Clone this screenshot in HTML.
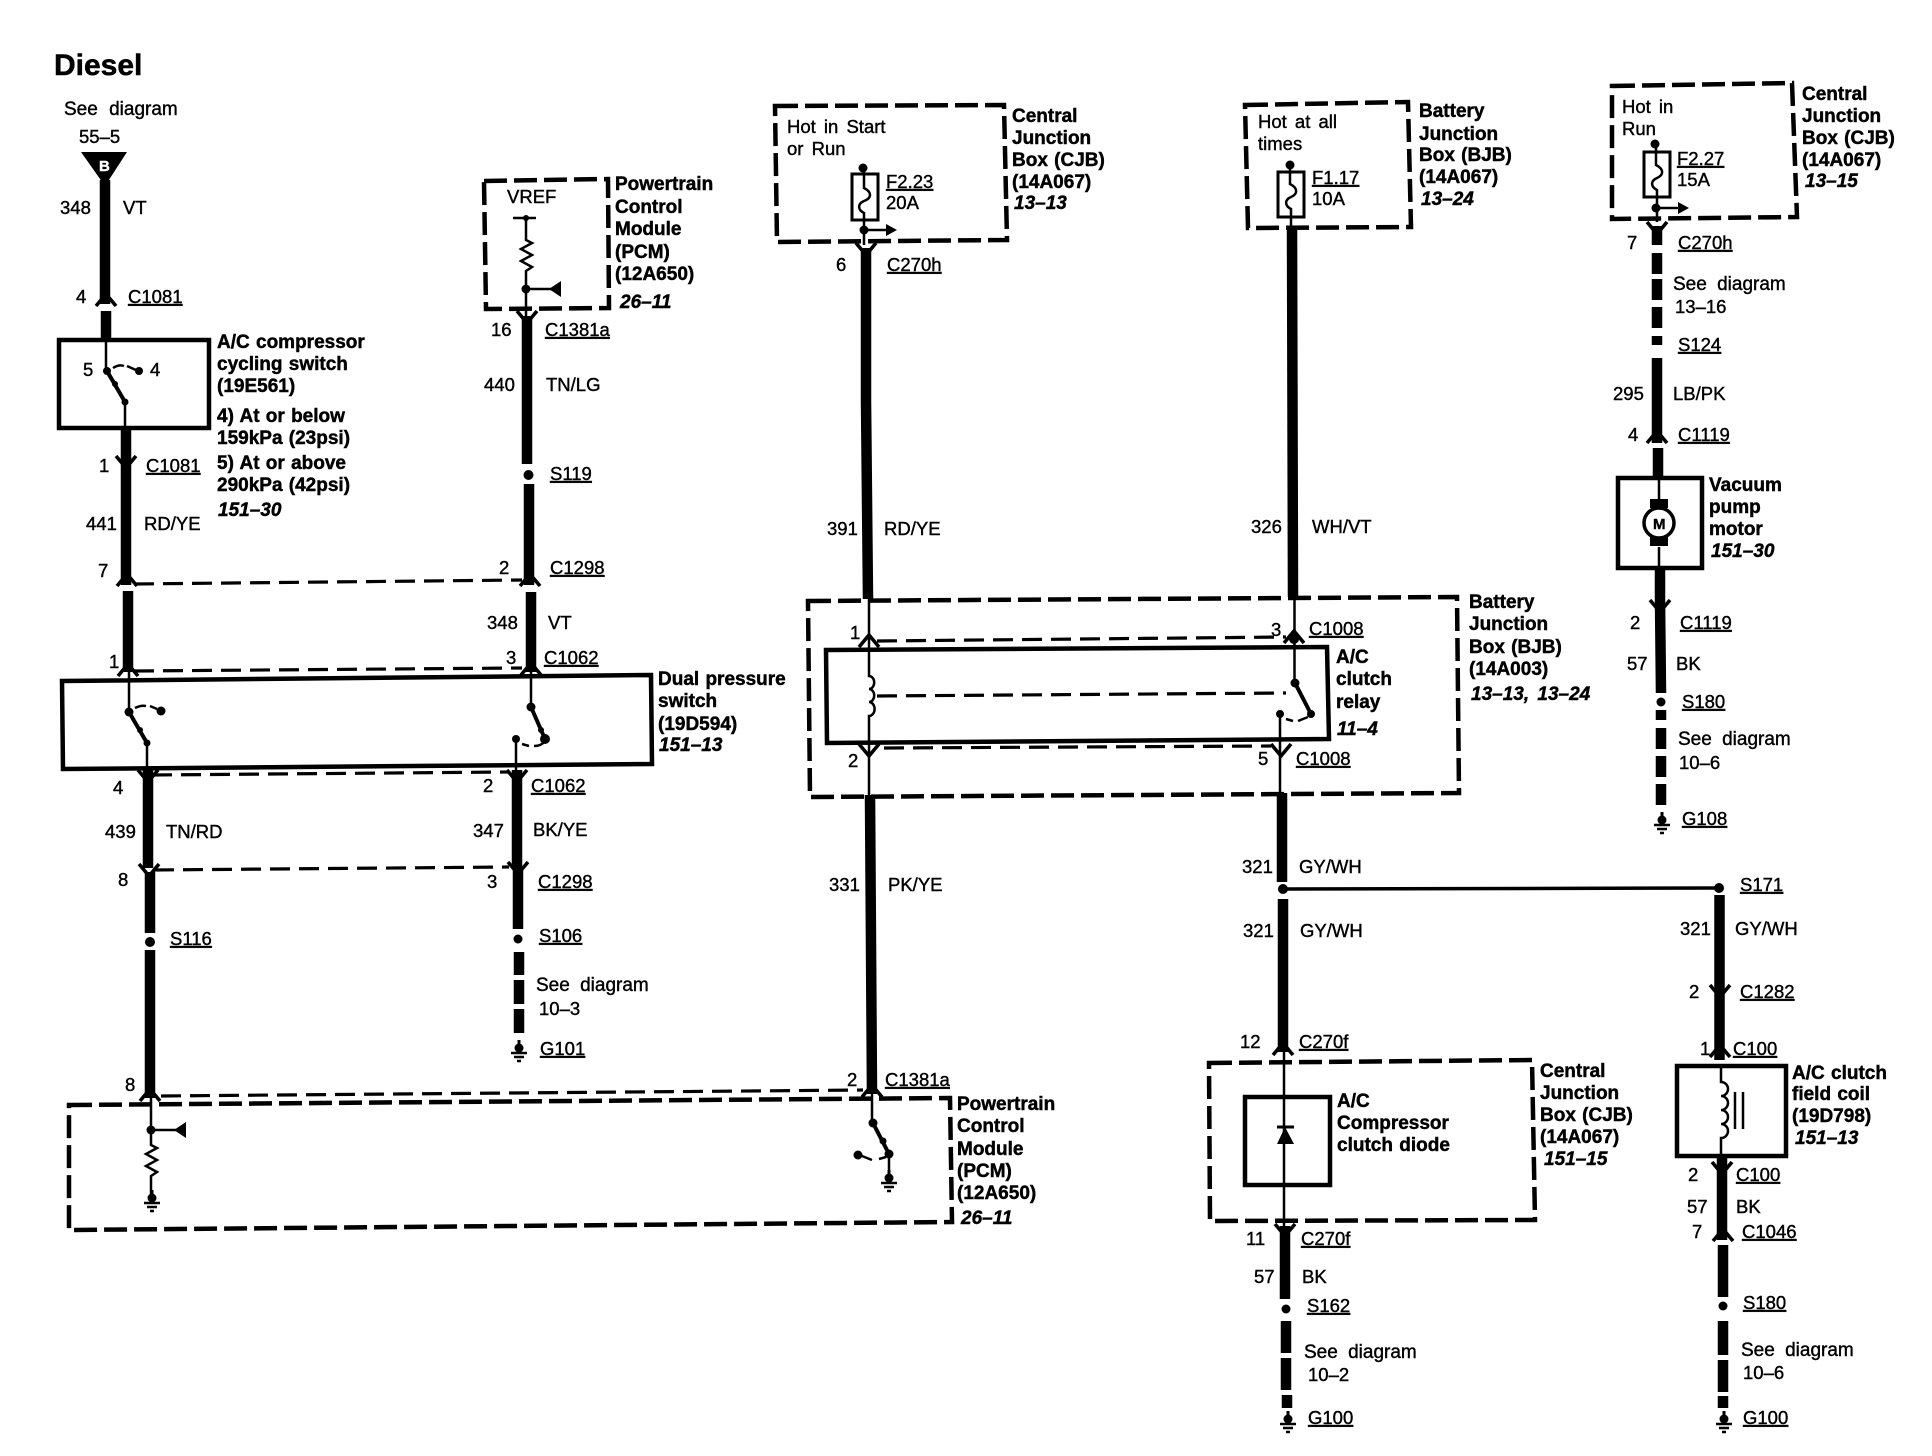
<!DOCTYPE html>
<html>
<head>
<meta charset="utf-8">
<title>Diesel wiring diagram</title>
<style>
html,body{margin:0;padding:0;background:#fff;}
svg{display:block;}
text{font-family:"Liberation Sans",sans-serif;fill:#000;stroke:#000;stroke-width:.4;font-size:18.5px;word-spacing:3px;}
.b{font-weight:bold;font-size:19px;stroke-width:.45;word-spacing:1px;}
.i{font-weight:bold;font-style:italic;font-size:19px;stroke-width:.45;}
.u{text-decoration:underline;}
.w{stroke:#000;stroke-width:10.5;fill:none;}
.t{stroke:#000;stroke-width:2.5;fill:none;}
.bx{stroke:#000;stroke-width:4.5;fill:none;}
.db{stroke:#000;stroke-width:4.5;fill:none;stroke-dasharray:23 7;}
.dl{stroke:#000;stroke-width:3.2;fill:none;stroke-dasharray:20 9;}
.c{stroke:#000;stroke-width:3.6;fill:none;}
.sd{font-size:19px;word-spacing:5px;}
</style>
</head>
<body>
<svg width="1932" height="1456" viewBox="0 0 1932 1456" xmlns="http://www.w3.org/2000/svg">
<defs>
<path id="up" class="c" d="M-10 6 L0 -6 L10 6"/>
<path id="dn" class="c" d="M-10 -6 L0 6 L10 -6"/>
<g id="gnd"><path d="M0 0V10" stroke="#000" stroke-width="3"/><circle cx="0" cy="8" r="4.5" fill="#000"/><path d="M-8 13H8M-5 17H5M-2 21H2" stroke="#000" stroke-width="2.5"/></g>
</defs>
<rect width="1932" height="1456" fill="#fff"/>

<!-- Title -->
<text x="54" y="75" style="font-size:30px;font-weight:bold;stroke-width:.5">Diesel</text>
<text x="64" y="115" class="sd" style="word-spacing:6px">See diagram</text>
<text x="79" y="143">55–5</text>

<!-- Wire column 1 -->
<path d="M81 152H127L105 186Z" fill="#000"/>
<text x="99" y="171" style="fill:#fff;stroke:#fff;font-size:15px;font-weight:bold">B</text>
<path class="w" d="M105 180V304M106 311V338"/>
<use href="#up" x="106" y="300"/>
<rect x="59" y="340" width="150" height="88" class="bx"/>
<path class="t" d="M106 338V371L125 402V429"/>
<path d="M107 371L125 402" stroke="#000" stroke-width="4"/>
<circle cx="107" cy="371" r="4" fill="#000"/><circle cx="115" cy="384" r="3" fill="#000"/><circle cx="125" cy="402" r="3.5" fill="#000"/><circle cx="139" cy="371" r="4" fill="#000"/>
<path class="t" d="M113 368Q119 364 124 366M127 366L136 370"/>
<text x="83" y="376">5</text><text x="150" y="376">4</text>
<path class="w" d="M126 430V585"/>
<use href="#dn" x="126" y="462"/>
<use href="#up" x="127" y="580"/>
<path class="w" d="M128 591V672"/>
<use href="#up" x="128" y="670"/>
<path class="dl" d="M134 584L522 580M134 671L522 668"/>
<text x="60" y="214">348</text><text x="123" y="214">VT</text>
<text x="76" y="303">4</text><text x="128" y="303" class="u">C1081</text>
<text x="99" y="472">1</text><text x="146" y="472" class="u">C1081</text>
<text x="86" y="530">441</text><text x="144" y="530">RD/YE</text>
<text x="98" y="577">7</text><text x="109" y="668">1</text>
<text x="217" y="348" class="b">A/C compressor</text>
<text x="217" y="370" class="b">cycling switch</text>
<text x="217" y="392" class="b">(19E561)</text>
<text x="217" y="422" class="b">4) At or below</text>
<text x="217" y="444" class="b">159kPa (23psi)</text>
<text x="217" y="469" class="b">5) At or above</text>
<text x="217" y="491" class="b">290kPa (42psi)</text>
<text x="218" y="516" class="i">151–30</text>

<!-- PCM VREF -->
<path class="db" d="M484 181L608 179L609 308L486 309Z"/>
<text x="507" y="203">VREF</text>
<path class="t" d="M513 218H536M526 218V240l6 3l-11 6l11 6l-11 6l11 6l-6 4V318"/>
<circle cx="526" cy="218" r="3" fill="#000"/>
<circle cx="526" cy="289" r="4.5" fill="#000"/>
<path class="t" d="M526 289H552"/><path d="M561 281V297L549 289Z" fill="#000"/>
<use href="#dn" x="527" y="317"/>
<path class="w" d="M527 316V464M529 484V585M531 592V672"/>
<circle cx="528.5" cy="475" r="5" fill="#000"/>
<use href="#up" x="530" y="580"/>
<use href="#up" x="531" y="669"/>
<text x="491" y="336">16</text><text x="545" y="336" class="u">C1381a</text>
<text x="484" y="391">440</text><text x="546" y="391">TN/LG</text>
<text x="550" y="480" class="u">S119</text>
<text x="499" y="574">2</text><text x="550" y="574" class="u">C1298</text>
<text x="487" y="629">348</text><text x="548" y="629">VT</text>
<text x="506" y="664">3</text><text x="544" y="664" class="u">C1062</text>
<text x="615" y="190" class="b">Powertrain</text>
<text x="615" y="213" class="b">Control</text>
<text x="615" y="235" class="b">Module</text>
<text x="615" y="258" class="b">(PCM)</text>
<text x="615" y="280" class="b">(12A650)</text>
<text x="620" y="308" class="i">26–11</text>

<!-- Dual pressure switch -->
<path class="bx" d="M62 681L651 675L652 764L63 769Z"/>
<path class="t" d="M129 672V712"/><path d="M129 712L147 743" stroke="#000" stroke-width="4"/><path class="t" d="M147 743V770"/>
<circle cx="129" cy="712" r="4.5" fill="#000"/><circle cx="140" cy="730" r="3" fill="#000"/><circle cx="147" cy="743" r="3.5" fill="#000"/><circle cx="161" cy="711" r="4.5" fill="#000"/>
<path class="t" d="M135 708Q141 705 146 706M150 706L157 709"/>
<path class="t" d="M531 670V707"/><path d="M531 707L545 739" stroke="#000" stroke-width="4"/>
<circle cx="531" cy="707" r="4.5" fill="#000"/><circle cx="541" cy="730" r="3" fill="#000"/><circle cx="545" cy="739" r="5" fill="#000"/><circle cx="516" cy="739" r="4" fill="#000"/>
<path class="t" d="M516 739V770M522 744L529 746M534 746Q541 746 544 742"/>
<text x="658" y="685" class="b">Dual pressure</text>
<text x="658" y="707" class="b">switch</text>
<text x="658" y="730" class="b">(19D594)</text>
<text x="659" y="751" class="i">151–13</text>

<!-- below dual -->
<path class="w" d="M148 770V868M150 872V933M150 950V1098"/>
<use href="#dn" x="148" y="776"/><use href="#dn" x="149" y="870"/>
<circle cx="150" cy="942" r="5" fill="#000"/>
<use href="#up" x="150" y="1095"/>
<path class="dl" d="M152 775L509 772M154 870L509 867M161 1096L863 1090"/>
<path class="w" d="M517 770V866M518 866V929"/>
<use href="#dn" x="517" y="776"/><use href="#dn" x="518" y="868"/>
<circle cx="518" cy="939" r="4.5" fill="#000"/>
<path class="w" d="M519 952V975M519 980V1004M519 1009V1033"/>
<use href="#gnd" x="519" y="1040"/>
<text x="113" y="794">4</text>
<text x="105" y="838">439</text><text x="166" y="838">TN/RD</text>
<text x="118" y="886">8</text><text x="170" y="945" class="u">S116</text>
<text x="125" y="1091">8</text>
<text x="483" y="792">2</text><text x="531" y="792" class="u">C1062</text>
<text x="473" y="837">347</text><text x="533" y="836">BK/YE</text>
<text x="487" y="888">3</text><text x="538" y="888" class="u">C1298</text>
<text x="539" y="942" class="u">S106</text>
<text x="536" y="991" class="sd">See diagram</text>
<text x="539" y="1015">10–3</text>
<text x="540" y="1055" class="u">G101</text>

<!-- Bottom PCM -->
<path class="db" d="M69 1105L950 1098L952 1222L69 1230Z"/>
<path class="t" d="M151 1097V1145l6 3l-11 6l11 6l-11 6l11 6l-6 4V1196"/>
<circle cx="151" cy="1130" r="4.5" fill="#000"/>
<path class="t" d="M151 1130H178"/><path d="M186 1122V1138L174 1130Z" fill="#000"/>
<use href="#gnd" x="152" y="1190"/>
<path class="t" d="M872 1090V1123"/><path d="M873 1123L889 1154" stroke="#000" stroke-width="4"/>
<circle cx="873" cy="1123" r="4.5" fill="#000"/><circle cx="883" cy="1141" r="3.5" fill="#000"/><circle cx="889" cy="1154" r="4.500" fill="#000"/><circle cx="858" cy="1155" r="4.5" fill="#000"/>
<path class="t" d="M862 1156L872 1160M879 1159L886 1157M889 1154V1175"/>
<use href="#gnd" x="889" y="1170"/>
<use href="#up" x="872" y="1091"/>
<text x="847" y="1086">2</text><text x="885" y="1086" class="u">C1381a</text>
<text x="957" y="1110" class="b">Powertrain</text>
<text x="957" y="1132" class="b">Control</text>
<text x="957" y="1155" class="b">Module</text>
<text x="957" y="1177" class="b">(PCM)</text>
<text x="957" y="1199" class="b">(12A650)</text>
<text x="961" y="1224" class="i">26–11</text>

<!-- CJB F2.23 -->
<path class="db" d="M775 106L1004 105L1007 240L777 242Z"/>
<text x="787" y="133">Hot in Start</text><text x="787" y="155">or Run</text>
<circle cx="863" cy="168" r="4.5" fill="#000"/>
<rect x="852" y="174" width="26" height="46" fill="none" stroke="#000" stroke-width="3"/>
<path class="t" d="M864 170V188C872 192 872 198 864 201C857 204 858 210 864 213V245"/>
<circle cx="864" cy="230" r="4.5" fill="#000"/>
<path class="t" d="M864 230H888"/><path d="M886 224L897 230L886 236Z" fill="#000"/>
<text x="886" y="188" class="u">F2.23</text><text x="886" y="209">20A</text>
<use href="#dn" x="866" y="249"/>
<path class="w" d="M866 248V400L868 599"/>
<text x="836" y="271">6</text><text x="887" y="271" class="u">C270h</text>
<text x="827" y="535">391</text><text x="884" y="535">RD/YE</text>
<text x="1012" y="122" class="b">Central</text>
<text x="1012" y="144" class="b">Junction</text>
<text x="1012" y="166" class="b">Box (CJB)</text>
<text x="1012" y="188" class="b">(14A067)</text>
<text x="1014" y="209" class="i">13–13</text>

<!-- BJB F1.17 -->
<path class="db" d="M1245 105L1408 102L1411 227L1248 228Z"/>
<text x="1258" y="128">Hot at all</text><text x="1258" y="150">times</text>
<circle cx="1290" cy="165" r="4.5" fill="#000"/>
<rect x="1278" y="172" width="26" height="45" fill="none" stroke="#000" stroke-width="3"/>
<path class="t" d="M1290 167V184C1298 188 1298 194 1291 197C1284 200 1285 206 1291 209V228"/>
<text x="1312" y="184" class="u">F1.17</text><text x="1312" y="205">10A</text>
<path class="w" d="M1292 226L1293 597"/>
<text x="1251" y="533">326</text><text x="1312" y="533">WH/VT</text>
<text x="1419" y="117" class="b">Battery</text>
<text x="1419" y="140" class="b">Junction</text>
<text x="1419" y="161" class="b">Box (BJB)</text>
<text x="1419" y="183" class="b">(14A067)</text>
<text x="1421" y="205" class="i">13–24</text>

<!-- Battery junction box + relay -->
<path class="db" d="M808 601L1457 597L1459 793L810 797Z"/>
<path class="bx" d="M826 650L1327 647L1329 739L827 743Z"/>
<path class="t" d="M869 598V676a4 5 0 0 1 0 13a4 5 0 0 1 0 13a4 5 0 0 1 0 14V795"/>
<use href="#up" x="869" y="641"/><use href="#dn" x="869" y="750"/>
<path class="dl" d="M877 641L1286 637M884 748L1271 746M877 696L1286 693"/>
<path class="t" d="M1294.5 596V683"/>
<circle cx="1294" cy="639" r="5" fill="#000"/>
<use href="#up" x="1294" y="637"/>
<circle cx="1295" cy="683" r="4.5" fill="#000"/>
<path d="M1295 683L1311 714" stroke="#000" stroke-width="4"/>
<circle cx="1311" cy="714" r="4" fill="#000"/><circle cx="1280" cy="714" r="4" fill="#000"/>
<path class="t" d="M1280 714V795M1286 719L1293 721M1298 721L1308 717"/>
<use href="#dn" x="1281" y="750"/>
<text x="850" y="639">1</text><text x="1271" y="636">3</text><text x="1309" y="635" class="u">C1008</text>
<text x="848" y="767">2</text><text x="1258" y="765">5</text><text x="1296" y="765" class="u">C1008</text>
<text x="1336" y="663" class="b">A/C</text>
<text x="1336" y="685" class="b">clutch</text>
<text x="1336" y="708" class="b">relay</text>
<text x="1337" y="735" class="i">11–4</text>
<text x="1469" y="608" class="b">Battery</text>
<text x="1469" y="630" class="b">Junction</text>
<text x="1469" y="653" class="b">Box (BJB)</text>
<text x="1469" y="675" class="b">(14A003)</text>
<text x="1471" y="700" class="i">13–13, 13–24</text>

<!-- Wire 331 -->
<path class="w" d="M870 795L872 1094"/>
<text x="829" y="891">331</text><text x="888" y="891">PK/YE</text>

<!-- Wire 321 -->
<path class="w" d="M1282 793V882M1283 899V1052"/>
<circle cx="1283" cy="889" r="5" fill="#000"/>
<path d="M1283 889L1719 888" stroke="#000" stroke-width="3.5"/>
<circle cx="1719" cy="888" r="5" fill="#000"/>
<use href="#up" x="1283" y="1049"/>
<text x="1242" y="873">321</text><text x="1299" y="873">GY/WH</text>
<text x="1243" y="937">321</text><text x="1300" y="937">GY/WH</text>
<text x="1240" y="1048">12</text><text x="1299" y="1048" class="u">C270f</text>

<!-- CJB diode -->
<path class="db" d="M1209 1063L1532 1060L1535 1220L1210 1221Z"/>
<rect x="1245" y="1097" width="85" height="88" class="bx"/>
<path class="t" d="M1284 1050V1232"/>
<path d="M1277 1127H1294" stroke="#000" stroke-width="3"/>
<path d="M1285 1127L1277 1144H1294Z" fill="#000"/>
<use href="#dn" x="1285" y="1230"/>
<path class="w" d="M1285 1226V1299M1286 1321V1353M1286 1358V1390M1287 1395V1408"/>
<circle cx="1286" cy="1309" r="4.5" fill="#000"/>
<use href="#gnd" x="1288" y="1411"/>
<text x="1246" y="1245">11</text><text x="1301" y="1245" class="u">C270f</text>
<text x="1254" y="1283">57</text><text x="1302" y="1283">BK</text>
<text x="1307" y="1312" class="u">S162</text>
<text x="1304" y="1358" class="sd">See diagram</text>
<text x="1308" y="1381">10–2</text>
<text x="1308" y="1424" class="u">G100</text>
<text x="1337" y="1107" class="b">A/C</text>
<text x="1337" y="1129" class="b">Compressor</text>
<text x="1337" y="1151" class="b">clutch diode</text>
<text x="1540" y="1077" class="b">Central</text>
<text x="1540" y="1099" class="b">Junction</text>
<text x="1540" y="1121" class="b">Box (CJB)</text>
<text x="1540" y="1143" class="b">(14A067)</text>
<text x="1544" y="1165" class="i">151–15</text>

<!-- Right wire 321 / clutch field coil -->
<path class="w" d="M1719.5 895V1060"/>
<use href="#dn" x="1720" y="991"/><use href="#up" x="1720" y="1051"/>
<rect x="1677" y="1066" width="109" height="90" class="bx"/>
<path class="t" d="M1721 1064V1082a5 5 0 0 1 0 14a5 5 0 0 1 0 14a5 5 0 0 1 0 14a5 5 0 0 1 0 14V1158"/>
<path d="M1735 1092V1129M1743 1092V1129" stroke="#000" stroke-width="2.5"/>
<path class="w" d="M1722 1156V1240M1723 1245V1297M1723 1321V1355M1723 1360V1392M1723 1396V1408"/>
<use href="#dn" x="1722" y="1168"/><use href="#up" x="1723" y="1235"/>
<circle cx="1723" cy="1306" r="4.5" fill="#000"/>
<use href="#gnd" x="1724" y="1411"/>
<text x="1740" y="891" class="u">S171</text>
<text x="1680" y="935">321</text><text x="1735" y="935">GY/WH</text>
<text x="1689" y="998">2</text><text x="1740" y="998" class="u">C1282</text>
<text x="1700" y="1055">1</text><text x="1733" y="1055" class="u">C100</text>
<text x="1792" y="1079" class="b">A/C clutch</text>
<text x="1792" y="1100" class="b">field coil</text>
<text x="1792" y="1122" class="b">(19D798)</text>
<text x="1795" y="1144" class="i">151–13</text>
<text x="1688" y="1181">2</text><text x="1736" y="1181" class="u">C100</text>
<text x="1687" y="1213">57</text><text x="1736" y="1213">BK</text>
<text x="1692" y="1238">7</text><text x="1742" y="1238" class="u">C1046</text>
<text x="1743" y="1309" class="u">S180</text>
<text x="1741" y="1356" class="sd">See diagram</text>
<text x="1743" y="1379">10–6</text>
<text x="1743" y="1424" class="u">G100</text>

<!-- CJB F2.27 -->
<path class="db" d="M1612 86L1792 83L1797 217L1612 219Z"/>
<text x="1622" y="113">Hot in</text><text x="1622" y="135">Run</text>
<circle cx="1655" cy="144" r="4.5" fill="#000"/>
<rect x="1644" y="152" width="26" height="45" fill="none" stroke="#000" stroke-width="3"/>
<path class="t" d="M1656 146V165C1664 169 1664 175 1657 178C1650 181 1651 187 1657 190V222"/>
<circle cx="1656" cy="208" r="4.5" fill="#000"/>
<path class="t" d="M1656 208H1680"/><path d="M1678 202L1689 208L1678 214Z" fill="#000"/>
<text x="1677" y="165" class="u">F2.27</text><text x="1677" y="186">15A</text>
<use href="#dn" x="1657" y="228"/>
<path class="w" d="M1657 226V245M1657 253V274M1657 279V300M1657 307V328M1657 336V345M1657 358V443M1658 448V476"/>
<use href="#up" x="1657" y="437"/>
<rect x="1618" y="478" width="84" height="90" class="bx"/>
<path class="t" d="M1659 476V499M1659 547V568"/>
<rect x="1650" y="499" width="18" height="9" fill="#000"/><rect x="1650" y="537" width="18" height="9" fill="#000"/>
<circle cx="1659" cy="523" r="15" fill="#fff" stroke="#000" stroke-width="3.5"/>
<text x="1653" y="529" style="font-size:15px;font-weight:bold;stroke-width:.4">M</text>
<path class="w" d="M1660 568V600L1661 693"/>
<use href="#dn" x="1660" y="606"/>
<circle cx="1661" cy="702" r="4.5" fill="#000"/>
<path class="w" d="M1661 710V720M1661 728V749M1661 756V777M1661 784V805"/>
<use href="#gnd" x="1662" y="812"/>
<text x="1627" y="249">7</text><text x="1678" y="249" class="u">C270h</text>
<text x="1673" y="290" class="sd">See diagram</text>
<text x="1675" y="313">13–16</text>
<text x="1678" y="351" class="u">S124</text>
<text x="1613" y="400">295</text><text x="1673" y="400">LB/PK</text>
<text x="1628" y="441">4</text><text x="1678" y="441" class="u">C1119</text>
<text x="1709" y="491" class="b">Vacuum</text>
<text x="1709" y="513" class="b">pump</text>
<text x="1709" y="535" class="b">motor</text>
<text x="1711" y="557" class="i">151–30</text>
<text x="1630" y="629">2</text><text x="1680" y="629" class="u">C1119</text>
<text x="1627" y="670">57</text><text x="1676" y="670">BK</text>
<text x="1682" y="708" class="u">S180</text>
<text x="1678" y="745" class="sd">See diagram</text>
<text x="1679" y="769">10–6</text>
<text x="1682" y="825" class="u">G108</text>
<text x="1802" y="100" class="b">Central</text>
<text x="1802" y="122" class="b">Junction</text>
<text x="1802" y="144" class="b">Box (CJB)</text>
<text x="1802" y="166" class="b">(14A067)</text>
<text x="1805" y="187" class="i">13–15</text>
</svg>
</body>
</html>
